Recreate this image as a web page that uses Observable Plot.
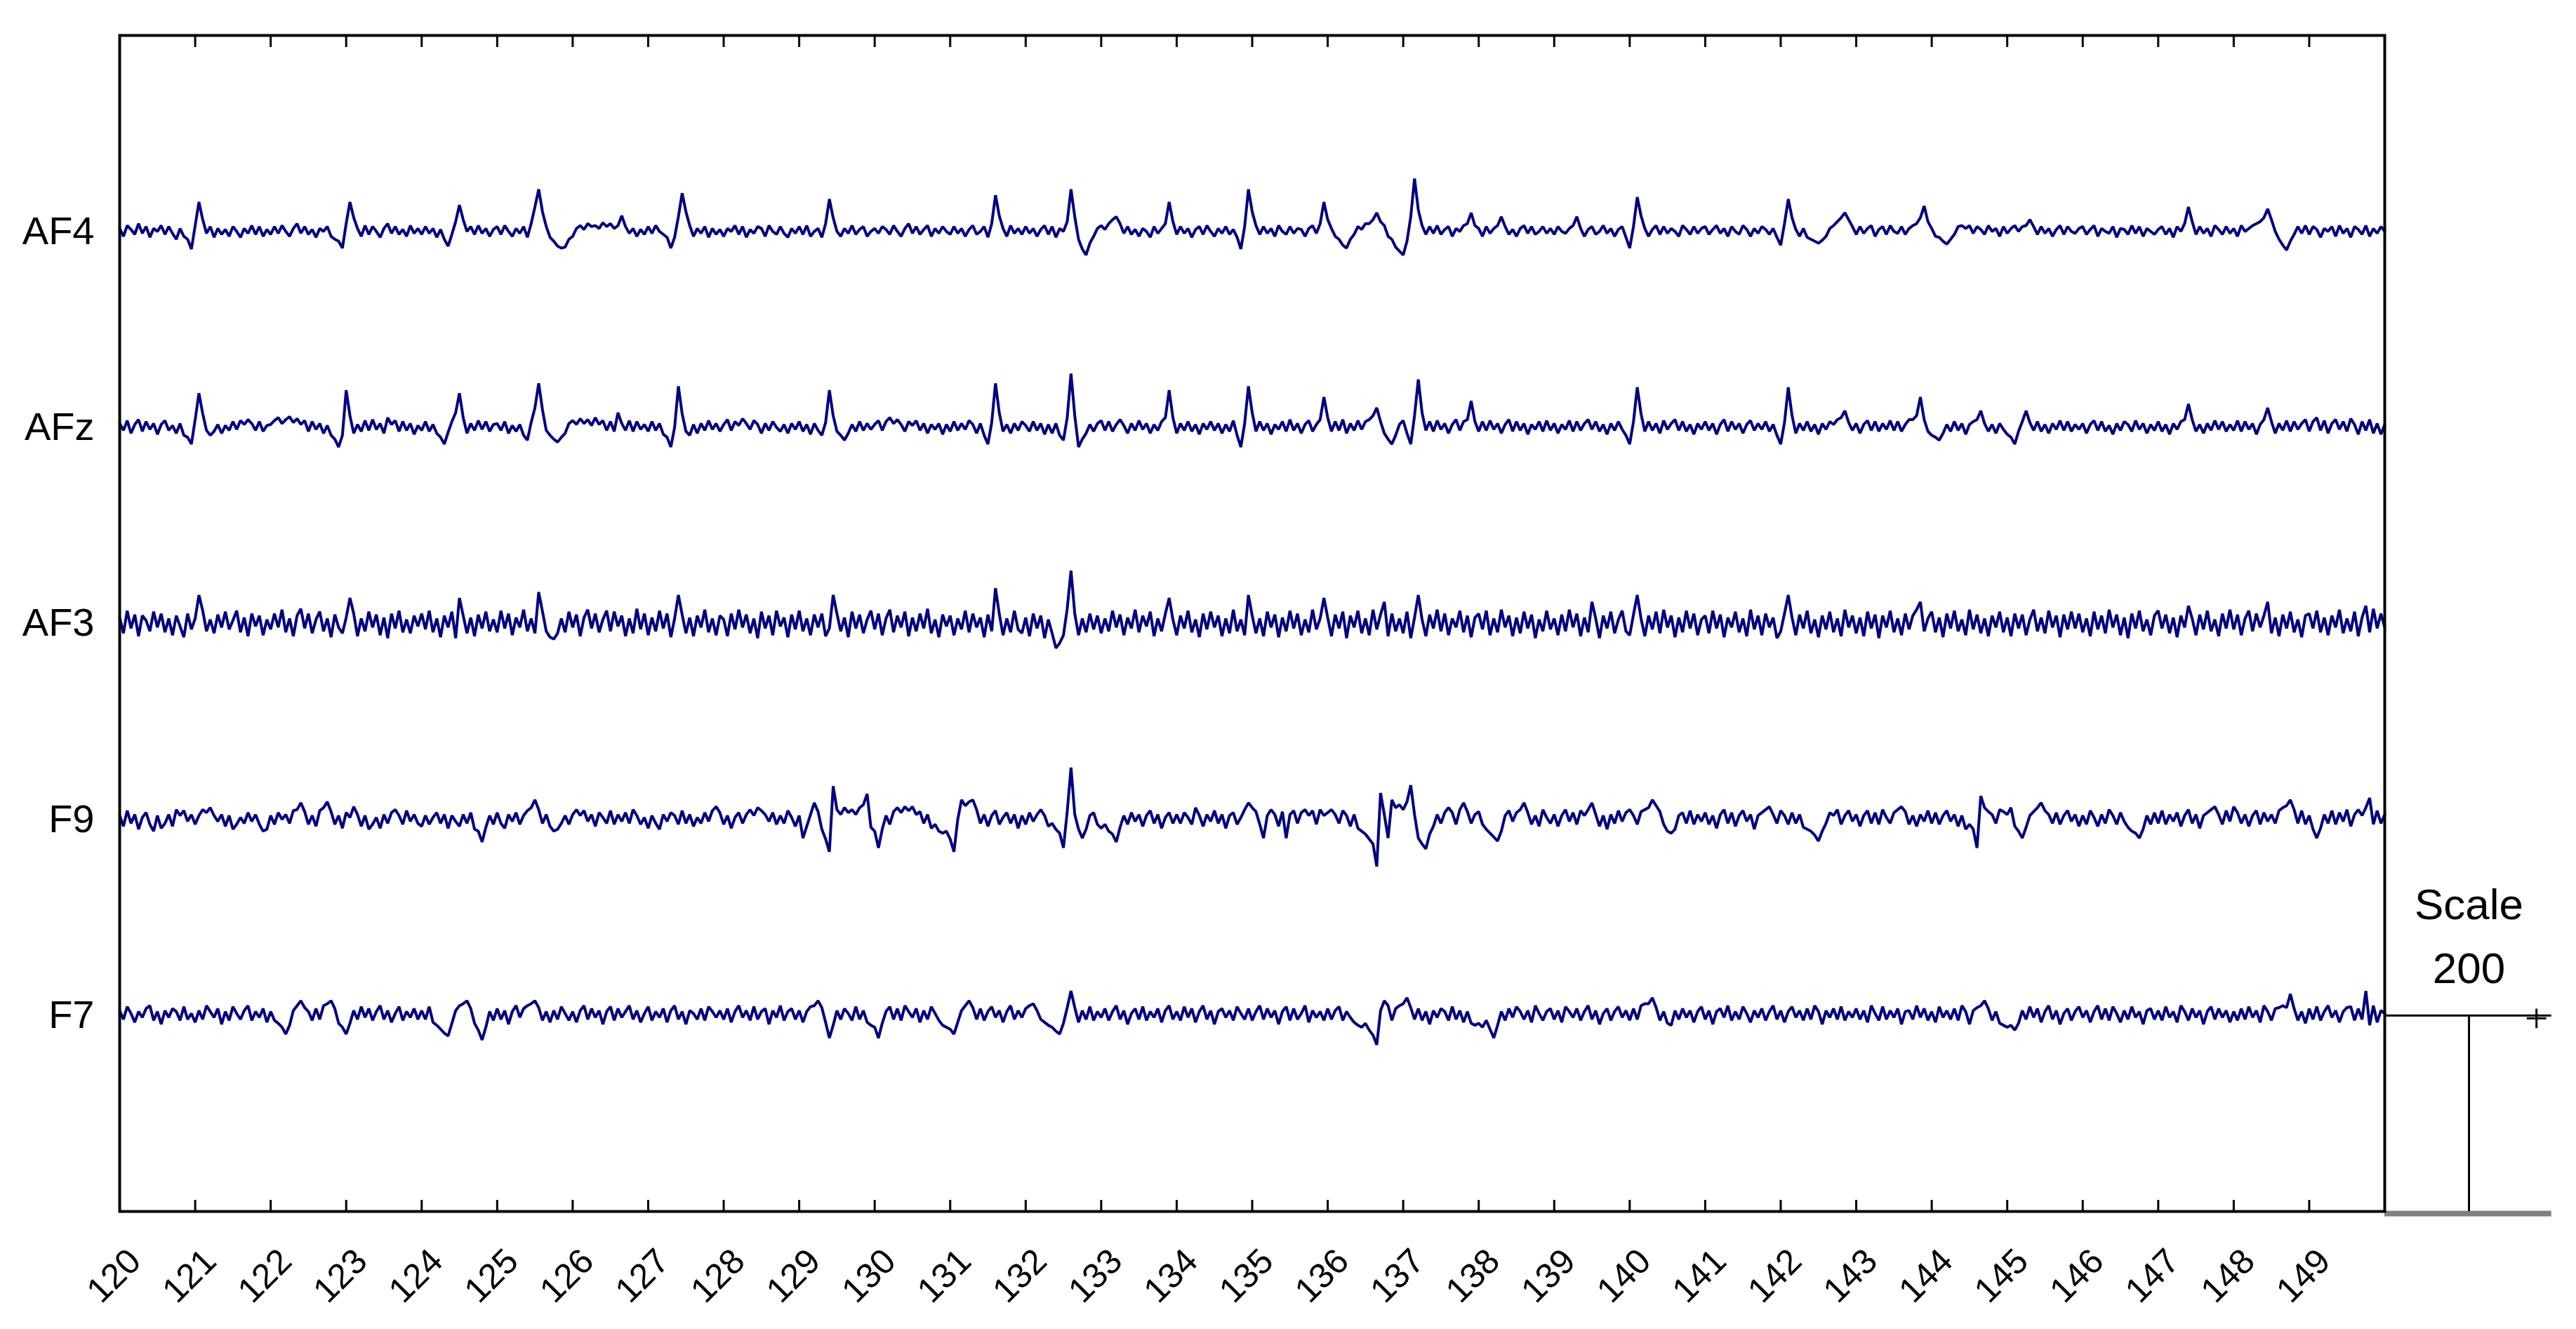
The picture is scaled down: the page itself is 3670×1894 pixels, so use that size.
<!DOCTYPE html>
<html><head><meta charset="utf-8">
<script src="https://cdn.jsdelivr.net/npm/d3@7"></script>
<script src="https://cdn.jsdelivr.net/npm/@observablehq/plot@0.6"></script>
<style>html,body{margin:0;padding:0;background:#fff;} svg{display:block;}</style>
</head><body><div id="chart"></div>
<script>
// Channel names and their vertical offsets (µV, 200 per channel spacing)
const channelNames = ["AF4", "AFz", "AF3", "F9", "F7"];
const channelOffsets = [1000, 800, 600, 400, 200];
// sampling of the traces: start time (s) and step (s)
const t0 = 120, dt = 0.05;
const xTicks = [120,121,122,123,124,125,126,127,128,129,130,131,132,133,134,135,136,137,138,139,140,141,142,143,144,145,146,147,148,149];

// one line per second, 20 samples each (µV relative to channel baseline)
const AF4 = [
3,-5,6,2,-3,8,-2,5,-6,3,0,6,-3,5,-2,-8,3,-5,-8,-18,
6,30,12,-2,5,-6,3,-3,2,-5,5,0,-6,3,-2,6,-3,5,-5,2,
-3,5,-2,6,0,-5,3,8,-2,5,-3,2,-6,3,0,5,-5,-8,-10,-17,
8,30,14,3,-5,6,-3,5,0,-6,3,8,-2,5,-3,2,-5,6,-2,3,
-3,5,-2,3,-6,2,-8,-15,-3,10,27,12,0,5,-3,6,-2,3,-5,2,
5,-3,6,0,-5,3,-2,5,-6,8,25,43,20,5,-6,-10,-15,-17,-16,-8,
-5,3,6,2,8,5,6,3,9,5,8,3,6,16,5,-2,3,-5,2,-3,
5,-2,6,0,-3,-6,-17,-6,15,39,20,6,-5,3,-2,5,-6,3,-3,2,
-5,3,0,6,-3,5,-6,2,-2,5,3,-5,6,0,-3,5,-2,-6,3,-2,
5,-3,6,-5,0,3,-6,8,33,14,0,-5,3,-2,6,-3,2,5,-5,0,
3,-2,5,2,-3,6,0,-5,3,8,-2,5,-3,2,6,-5,3,-2,5,0,
-3,5,-2,3,-5,2,6,-3,0,5,-6,8,37,16,3,-5,6,-2,3,-3,
5,-2,3,-5,2,6,-3,5,-6,3,0,10,43,15,-8,-18,-24,-12,-5,3,
6,2,8,12,15,8,-2,5,-3,2,-5,3,0,-6,5,-2,3,8,30,10,
-3,5,-2,3,-6,2,5,-3,6,0,-5,3,-2,5,-3,2,-6,-18,5,43,
20,6,-3,5,-2,3,-5,6,0,-3,5,-2,3,2,-5,3,6,-2,8,30,
12,3,-5,-8,-14,-17,-8,-3,5,2,8,8,12,19,10,6,-5,-8,-16,-20,
-24,-10,15,54,22,6,-3,5,-2,6,-3,2,5,-5,3,0,6,8,19,6,
3,-5,5,-2,3,6,15,5,-3,2,-5,3,6,-2,5,-3,0,5,-2,3,
-3,5,0,-2,3,6,15,3,-5,2,5,-3,0,6,-2,3,-5,2,5,-6,
-17,5,35,16,3,-5,2,6,-3,5,-2,3,0,-5,6,2,-3,5,-2,3,
5,-3,2,6,-2,3,-5,5,0,-3,6,2,-5,3,-2,5,2,-3,3,-6,
-14,8,33,14,2,-5,3,-6,-8,-10,-12,-9,-5,3,6,10,14,19,12,5,
-3,5,-2,3,6,-5,2,5,-3,6,0,-2,5,-3,3,6,8,14,26,10,
3,-5,-6,-10,-13,-8,-3,5,6,3,6,-2,5,2,-3,6,0,3,-5,5,
-2,3,6,0,5,6,12,5,-3,5,-2,3,-5,2,6,-3,5,0,-2,3,
5,-3,2,6,-5,3,0,-2,5,-6,3,2,-3,6,-2,5,-5,3,0,-3,
2,5,-3,3,-6,5,0,8,25,10,-3,5,-2,3,-5,6,2,-3,5,-2,
3,-5,6,0,3,6,8,10,14,23,12,0,-8,-14,-19,-10,-3,5,-2,6,
-3,5,2,-6,3,0,5,-5,6,-2,3,-6,5,2,-3,6,-5,3,-2,5,
0];

const AFz = [
4,-3,7,-6,3,8,-4,6,-2,4,-7,3,7,-3,2,-6,4,-8,-10,-17,
8,35,14,-3,-8,-4,3,-6,2,-3,6,-2,7,3,8,4,-3,6,-4,2,
3,7,10,4,8,11,5,9,3,7,-4,6,-2,4,-6,2,-8,-12,-20,-8,
38,12,-6,3,-4,7,-3,8,-2,4,-6,10,3,7,-4,6,-3,4,-7,2,
-3,6,-4,3,-6,-10,-17,-5,6,15,35,10,-6,4,-3,7,-2,6,-4,3,
4,-3,6,-6,2,-4,3,-8,-13,5,20,45,18,-3,-8,-12,-15,-10,-6,4,
7,3,9,4,8,2,10,3,7,-3,6,-4,15,4,-3,7,-4,6,-2,3,
-4,6,-3,4,-7,-10,-20,0,42,14,-4,-8,3,-6,4,-3,7,-2,4,-4,
3,8,-3,6,2,9,4,-2,7,3,-6,4,-3,6,0,-4,3,-6,4,-2,
6,-4,3,-7,4,-3,-8,5,38,12,-4,-8,-13,-6,3,-4,6,-3,4,-2,
3,7,-3,6,10,4,8,3,-4,6,2,7,-3,4,-6,3,-2,4,-7,3,
-4,6,-3,4,-2,7,3,-6,4,-8,-17,5,45,15,-4,3,-6,4,-3,6,
2,-4,6,-3,4,-7,3,-6,4,-8,-13,10,55,12,-20,-12,-6,3,-4,4,
7,-3,6,-4,3,8,2,-6,4,-3,7,-2,4,-6,3,-3,6,10,38,10,
-6,4,-3,6,-4,3,-7,4,-2,6,-3,4,-6,3,-4,7,-8,-20,4,42,
15,-4,6,-3,4,-7,3,-2,6,-4,8,-3,4,-6,3,7,-4,3,8,31,
10,-4,6,-3,8,-6,4,-3,7,-2,6,8,12,20,6,-6,-12,-17,-8,3,
7,-6,-17,12,49,15,-3,6,-4,7,-2,4,-6,3,8,-3,6,8,27,6,
-4,6,-3,7,-2,4,-6,3,8,-4,6,-3,4,-7,3,-2,6,-4,7,-3,
4,-6,3,-2,7,-4,6,-3,4,8,-2,6,-4,3,-7,4,-3,6,-2,-8,
-17,6,41,14,-4,6,-3,4,-6,7,-2,4,8,-3,6,-4,3,-7,4,-2,
6,-3,4,-7,3,8,-4,6,-2,4,-6,3,7,-3,4,-2,6,-4,3,-8,
-17,5,41,12,-6,4,-3,6,-4,3,-7,4,-2,6,3,8,10,17,5,-3,
4,-6,3,7,-3,6,-4,4,-2,7,-3,6,-4,3,8,8,12,31,8,-4,
-8,-10,-13,-6,3,-4,6,-3,4,-7,3,6,8,17,4,-4,3,-6,4,-2,
-7,-10,-17,-4,6,17,5,-3,6,-4,3,-6,4,-2,7,-3,6,-4,3,-2,
4,-6,3,7,-3,6,-4,2,-7,4,-3,6,3,-4,7,-2,4,-6,3,-3,
6,-4,3,-7,4,-2,6,8,24,8,-4,3,-6,4,-3,7,-2,6,-4,3,
-3,7,-4,6,-2,4,-7,3,8,20,6,-6,4,-3,7,-4,6,-2,4,8,
-4,6,10,-3,7,-6,4,8,-2,6,-4,9,3,-7,6,-3,8,-6,4,-7,
3];

const AF3 = [
6,-10,13,-5,9,-13,8,3,-8,12,-4,10,-9,5,-12,8,-3,-14,10,-6,
5,29,13,-8,4,-10,9,-4,12,-6,3,13,-9,6,-13,10,-3,8,-12,4,
-6,10,-4,14,-9,5,-13,8,15,-5,10,-10,4,12,-8,5,-14,9,-4,-10,
6,26,10,-13,5,-8,12,-4,9,-12,6,-15,10,-5,13,-9,4,-10,8,-3,
10,-6,13,-9,5,-14,8,-4,12,-15,26,8,-10,6,-13,9,-5,12,-8,4,
-9,13,-5,10,-12,6,-4,14,-8,5,-10,32,12,-8,-14,-16,-10,5,-9,12,
-4,9,-13,6,14,-5,10,-9,4,13,-8,12,-3,8,-13,5,-10,15,-6,10,
-12,6,-8,13,-5,10,-14,5,29,9,-10,6,-13,8,-4,14,-9,5,-12,8,
4,-13,10,-6,14,-4,9,-10,5,-15,12,-5,8,-12,13,-3,6,-14,9,-6,
13,-8,5,-12,9,-4,10,-13,-5,29,10,-8,6,-14,12,-5,9,-10,4,13,
-6,10,-12,5,14,-9,8,-4,12,-13,6,-8,10,-5,15,-10,4,-14,9,-3,
8,-12,5,-6,13,-9,10,-4,6,-14,9,-8,36,10,-12,5,-9,13,-6,-10,
6,-13,10,-5,8,-15,4,-10,-25,-20,-12,15,54,10,-12,5,-9,10,-6,8,
-10,5,-8,13,-4,9,-12,6,-5,14,-9,8,-3,12,-13,5,-8,10,26,4,
-12,8,-5,13,-9,4,-14,10,-6,12,-4,8,-13,5,-10,14,-8,4,-12,29,
8,-10,5,-13,12,-4,9,-14,6,-8,13,-5,10,-12,4,-9,14,-6,5,26,
6,-13,9,-5,12,-15,8,-4,13,-10,5,-12,14,-6,9,22,-13,10,-8,5,
-10,12,-15,6,29,4,-13,9,-5,14,-8,10,-12,5,-4,13,-9,8,-14,6,
10,-6,13,-12,5,-9,14,-4,8,-13,6,-10,12,-5,9,-15,4,-8,13,-6,
5,-12,9,-8,14,-4,10,-13,6,-9,22,5,-15,8,-5,12,-10,4,13,-8,
-12,9,29,5,-13,8,-6,12,-10,14,-4,8,-14,6,-9,13,-5,10,-12,4,
8,-10,13,-5,9,-14,6,-4,12,-9,5,-13,14,-6,8,-12,10,-4,6,-15,
-8,10,29,6,-12,9,-5,13,-10,4,-14,8,-6,12,-9,5,-13,14,-4,8,
-10,6,-13,12,-5,9,-15,8,-4,13,-9,5,-12,10,-6,8,14,22,-8,5,
12,-9,6,-14,10,-5,13,-8,4,-12,14,-6,9,-10,5,-13,8,-4,12,-9,
6,-13,10,-5,9,-12,4,14,-8,6,-10,13,-4,8,-14,9,-6,12,-5,10,
-9,5,-13,12,-6,8,-10,14,-4,9,-12,6,-15,10,-5,13,-8,4,-12,8,
13,-5,9,-10,6,-14,8,-4,18,5,-12,9,-6,13,-8,4,-13,10,-5,14,
-6,9,-12,5,13,-8,10,-4,8,22,-10,6,-13,9,-5,12,-9,4,-14,8,
10,-5,13,-9,6,-12,8,-4,14,-10,5,-8,12,-13,6,18,-9,15,-5,10,
-4];

const F9 = [
4,-7,9,-4,5,-10,2,7,-5,-12,4,-9,-4,5,-7,10,4,9,-2,5,
-5,4,10,7,12,4,-2,5,-7,4,-10,-5,2,-4,7,-2,5,-5,-12,-10,
4,-5,7,0,5,-4,9,10,17,8,-5,4,-7,9,12,18,8,-5,4,-9,
7,2,13,5,-7,4,-10,-5,2,-9,5,-4,7,10,4,-5,9,-2,5,-4,
-7,4,-5,2,7,-4,5,-9,4,-2,-7,5,-4,7,-10,-12,-23,-8,4,-5,
7,-4,-9,5,-2,7,-5,4,9,12,20,10,-4,5,-7,-12,-10,-4,4,-5,
5,10,4,9,-2,5,-7,7,2,-4,9,-5,5,-2,7,-4,10,4,-5,2,
-9,4,-4,-10,5,-2,7,4,-5,9,-4,5,-7,2,-4,7,-2,9,13,7,
-5,4,-9,2,7,-4,5,10,4,12,9,5,-2,7,-5,4,-4,9,2,-7,
4,-19,-7,5,17,8,-10,-20,-33,34,10,5,12,7,10,5,12,15,26,-8,
-12,-29,-10,4,-5,8,12,7,13,9,13,5,8,-4,5,-9,-5,-12,-14,-12,
-20,-33,0,20,14,18,20,10,-4,5,-7,4,9,-5,2,7,-4,5,-9,4,
-5,7,-2,5,10,4,-7,-4,-10,-14,-29,8,53,5,-10,-19,-10,4,7,-5,
-9,-5,-12,-15,-23,-8,4,-5,7,-2,5,-7,4,9,-4,5,-9,2,7,-4,
5,-4,7,2,-5,12,4,-7,5,-2,9,-4,5,-9,4,7,-5,2,10,17,
12,8,-5,-19,4,10,5,-7,8,-19,5,9,-4,7,10,4,9,-5,10,4,
7,10,5,-4,9,4,-7,5,-9,-12,-15,-20,-25,-48,27,5,-19,20,12,15,
10,18,35,5,-19,-25,-30,-15,-7,5,-4,7,12,7,-5,10,17,8,-4,5,
8,-5,-10,-14,-18,-22,-12,4,9,-2,7,10,17,7,-5,4,-7,10,2,-4,
5,-7,4,10,-2,7,-5,9,4,10,17,5,-7,4,-10,5,-4,9,-2,7,
10,4,-5,8,10,12,20,14,8,-5,-12,-14,-10,4,7,-4,9,-5,5,-2,
7,-5,4,-9,5,10,-4,7,-7,4,9,-2,5,-10,4,7,10,13,5,-4,
9,4,-5,7,-4,5,-8,-10,-12,-16,-22,-12,-4,7,4,10,-5,4,9,-2,
5,-7,4,9,-4,7,-5,10,2,-4,7,10,13,8,-5,4,-7,5,-2,9,
-4,7,-5,4,9,-2,5,-7,4,-10,-5,-10,-29,24,12,8,5,-4,10,8,
5,12,-7,-12,-19,-8,4,8,12,17,9,5,-4,7,-5,4,9,-2,5,-7,
4,-5,9,2,-7,5,-4,10,4,-5,7,-2,-8,-12,-14,-19,-10,4,-5,7,
-4,9,-5,5,-2,7,-7,4,10,-4,5,-9,4,7,10,13,5,-5,9,-2,
13,7,-4,5,-7,4,9,-5,7,-2,5,-4,9,12,14,20,10,-4,9,-5,
4,-10,-19,-9,5,-4,9,-5,7,-2,10,-7,5,10,4,12,22,-5,9,-4,
5];

const F7 = [
5,-4,9,2,-7,4,-2,7,10,-5,4,-9,5,-2,7,4,-5,9,-4,2,
-7,5,-4,10,4,-2,7,-9,4,-5,9,2,-4,5,10,-5,4,-2,7,-7,
4,-5,-8,-12,-19,-10,5,10,15,8,4,-5,7,-4,10,12,15,7,-8,-12,
-19,-8,5,-4,9,-2,7,-5,4,10,-4,5,-7,2,9,-5,4,-2,7,-4,
5,-4,9,-7,-10,-14,-18,-21,-8,5,10,12,15,7,-8,-15,-25,-12,4,-5,
7,-4,5,-9,4,10,-2,7,10,12,15,8,-5,4,-7,5,-4,9,2,-5,
4,-7,5,10,-4,7,-2,5,-9,4,9,-5,7,-2,4,10,-4,5,-7,2,
9,-5,4,-2,7,-7,5,10,-4,4,-9,5,2,-4,7,-5,9,4,-2,5,
-4,7,-7,4,10,-2,5,-5,9,-4,4,7,-9,5,-2,10,-5,4,7,-4,
5,-7,4,9,10,15,8,-7,-23,-10,5,-4,7,2,-5,9,-4,5,-7,-10,
-12,-23,-8,4,9,-4,7,-5,10,4,-2,7,-7,5,-4,9,2,-5,-10,-12,
-14,-19,-7,5,10,15,8,-4,7,-5,4,9,-2,5,-7,4,10,-4,5,-2,
7,10,12,5,-4,-7,-10,-12,-16,-19,-8,8,25,8,-7,5,-4,9,-5,4,
-2,7,-5,4,10,-4,5,-9,2,7,-4,9,-5,4,-2,7,-7,5,10,-4,
4,-5,9,-2,7,-7,4,10,-4,5,-9,4,7,-2,5,-5,9,2,-4,7,
-5,4,10,-4,7,-2,5,-9,4,9,-5,7,-4,2,10,-7,5,-2,4,-5,
7,-4,5,9,-5,4,-2,-7,-10,-12,-8,-15,-20,-30,5,15,10,-5,7,10,
12,18,8,-4,7,-5,4,-9,5,-2,7,4,-5,9,-4,5,-7,4,-8,-10,
-8,-12,-5,-14,-23,-10,4,-5,7,-2,9,4,-4,5,-7,10,2,-5,4,7,
-4,5,-7,9,4,-2,7,-5,4,10,-4,5,-9,2,7,-5,4,9,-2,5,
-5,7,-4,10,12,12,18,8,-5,4,-8,-10,5,-4,7,-2,5,-7,4,9,
-4,5,-9,4,7,-2,10,-5,4,-4,9,2,-7,5,-2,7,-5,4,10,-4,
5,-7,4,9,-2,5,-5,7,-4,10,4,-9,5,-2,7,-4,9,-5,4,-2,
7,-4,5,-7,10,2,-5,9,-4,5,-2,7,-9,4,5,-4,10,-2,7,-5,
4,-7,9,-2,5,-4,7,-5,10,4,-9,5,8,10,15,7,-5,4,-8,-10,
-12,-10,-15,-8,5,-4,9,-2,7,-7,4,10,-4,5,-9,2,7,-5,4,9,
-2,5,-7,4,10,-4,7,-5,9,2,-7,5,-4,9,-2,4,-9,5,7,-4,
5,-5,9,-2,4,-7,10,4,-5,7,-2,5,-9,4,9,-4,7,-2,5,-7,
4,-5,7,-4,9,-2,5,-7,10,4,-5,7,8,10,8,22,7,-5,4,-8,
7,-4,9,-5,4,10,-2,5,-7,4,8,9,-5,7,-4,25,-10,10,-7,5,
2];

// scale bar annotation (drawn right of the plot frame)
const scaleBar = {x: 151.116, xStart: 150, xEnd: 152.21, base: 0, top: 200,
                  title: "Scale", label: "200", titleY: 298, labelY: 233, markX: 152.01, markY: 197};

const series = [AF4, AFz, AF3, F9, F7];
const rows = [];
series.forEach((vals, c) => vals.forEach((v, i) =>
  rows.push({t: t0 + i * dt, y: channelOffsets[c] + v, ch: channelNames[c]})));

const chart = Plot.plot({
  width: 3670, height: 1894,
  marginLeft: 170, marginRight: 273, marginTop: 50, marginBottom: 168,
  x: {domain: [120, 150], label: null},
  y: {domain: [0, 1200], label: null},
  style: {fontFamily: "'Liberation Sans', Arial, Helvetica, sans-serif", background: "#ffffff", color: "#000000"},
  marks: [
    Plot.line(rows, {x: "t", y: "y", z: "ch", stroke: "#000080", strokeWidth: 4, strokeLinejoin: "miter"}),
    Plot.ruleY([scaleBar.base], {x1: scaleBar.xStart, x2: scaleBar.xEnd, stroke: "#808080", strokeWidth: 8, dy: 3}),
    Plot.frame({stroke: "#000000", strokeWidth: 4}),
    Plot.axisX({anchor: "bottom", ticks: xTicks, tickSize: 16, dy: -16, tickFormat: () => "", strokeWidth: 3, label: null}),
    Plot.axisX({anchor: "top", ticks: xTicks, tickSize: 16, dy: 16, tickFormat: () => "", strokeWidth: 3, label: null}),
    Plot.axisX({anchor: "bottom", ticks: xTicks, tickSize: 0, tickPadding: 92, tickRotate: -45,
                textAnchor: "middle", lineAnchor: "middle", fontSize: 50, dx: -8, label: null,
                tickFormat: d => String(d)}),
    Plot.axisY({anchor: "left", ticks: channelOffsets, tickSize: 0, tickPadding: 36, fontSize: 56, label: null,
                tickFormat: d => channelNames[channelOffsets.indexOf(d)]}),
    Plot.ruleY([scaleBar.top], {x1: scaleBar.xStart, x2: scaleBar.xEnd, stroke: "#000000", strokeWidth: 3}),
    Plot.ruleX([scaleBar.x], {y1: scaleBar.base, y2: scaleBar.top, stroke: "#000000", strokeWidth: 3}),
    Plot.dot([scaleBar], {x: "markX", y: "markY", symbol: "plus", r: 9, stroke: "#000000", strokeWidth: 3}),
    Plot.text([scaleBar], {x: "x", y: "titleY", text: "title", fontSize: 62, lineAnchor: "bottom", textAnchor: "middle", fill: "#000000"}),
    Plot.text([scaleBar], {x: "x", y: "labelY", text: "label", fontSize: 62, lineAnchor: "bottom", textAnchor: "middle", fill: "#000000"})
  ]
});
document.getElementById("chart").appendChild(chart);
</script>
</body></html>
